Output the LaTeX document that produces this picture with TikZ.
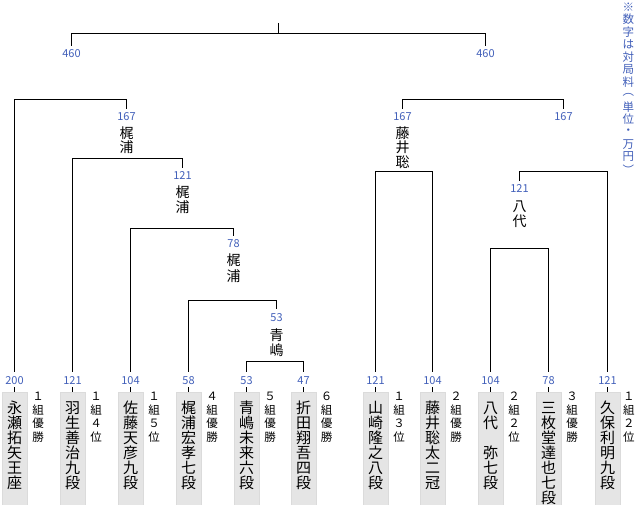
\documentclass[tikz,border=0pt]{standalone}
\usepackage{fontspec}
\setmainfont{Noto Sans CJK JP}
\definecolor{numblue}{RGB}{65,95,185}
\newcommand\vtext[6]{\foreach \ch [count=\i] in #6 {\node[#5] (#1-\i) at (#2,{#3+(\i-1)*#4}) {\ch};}}
\begin{document}
\begin{tikzpicture}[x=1pt,y=-1pt,
  ln/.style={line width=1.2pt},
  num/.style={text=numblue, font=\fontsize{11}{11}\selectfont, inner sep=0pt, text height=8pt, text depth=0pt},
  cbox/.style={fill=black!10, draw=black!14, line width=0.5pt, minimum width=25pt, minimum height=114pt, anchor=north, inner sep=0pt},
  btxt/.style={font=\fontsize{15}{15}\selectfont, inner sep=0pt},
  stxt/.style={font=\fontsize{11.5}{11.5}\selectfont, inner sep=0pt},
  ttxt/.style={font=\fontsize{14}{14}\selectfont, inner sep=0pt},
  ntxt/.style={font=\fontsize{11.5}{11.5}\selectfont, inner sep=0pt, text=numblue}]
\useasboundingbox (0,0) rectangle (635,505);

% columns: boxes, numbers, names, side texts
\foreach \k/\x/\sx/\n/\nm/\sd in {
  1/14.5/38/200/{永,瀬,拓,矢,王,座}/{１,組,優,勝},
  2/72.5/96/121/{羽,生,善,治,九,段}/{１,組,４,位},
  3/130.5/154/104/{佐,藤,天,彦,九,段}/{１,組,５,位},
  4/188.5/212/58/{梶,浦,宏,孝,七,段}/{４,組,優,勝},
  5/246.5/270/53/{青,嶋,未,来,六,段}/{５,組,優,勝},
  6/303.5/326.5/47/{折,田,翔,吾,四,段}/{６,組,優,勝},
  7/375.5/399/121/{山,崎,隆,之,八,段}/{１,組,３,位},
  8/432.5/456/104/{藤,井,聡,太,二,冠}/{２,組,優,勝},
  9/490.5/514/104/{八,代,　,弥,七,段}/{２,組,２,位},
  10/548.5/572/78/{三,枚,堂,達,也,七,段}/{３,組,優,勝},
  11/607.5/628.8/121/{久,保,利,明,九,段}/{１,組,２,位}}{
  \node[cbox] (b\k) at (\x,392) {};
  \node[num] (n\k) at (\x,380) {\n};
  \draw[ln] ([yshift=-3pt]n\k.south) -- (b\k.north);
  \vtext{t\k}{\x}{408}{15}{btxt}{\nm}
  \vtext{s\k}{\sx}{396.5}{13.5}{stxt}{\sd}
}

% top
\node[num] (L460) at (71.5,53.5) {460};
\node[num] (R460) at (485.5,53.5) {460};
\coordinate (Top) at (278.5,23);
\coordinate (J460) at (278.5,33.5);
\draw[ln] (Top) -- (J460);
\draw[ln, shorten <=3.5pt, shorten >=3.5pt] (L460.north) |- (J460) -| (R460.north);

% left tree
\node[num] (A167) at (126.5,117) {167};
\vtext{w1}{126.5}{133}{14.5}{ttxt}{{梶,浦}}
\coordinate (J167L) at (126.5,99.5);
\draw[ln, shorten <=4pt, shorten >=4pt] (n1.north) |- (J167L) -- (A167.north);

\node[num] (A121) at (182.5,176) {121};
\vtext{w2}{182.5}{192.5}{15}{ttxt}{{梶,浦}}
\coordinate (J121) at (182.5,158.5);
\draw[ln, shorten <=4pt, shorten >=4pt] (n2.north) |- (J121) -- (A121.north);

\node[num] (A78) at (233.5,244) {78};
\vtext{w3}{233.5}{260.5}{15.5}{ttxt}{{梶,浦}}
\coordinate (J78) at (233.5,228.5);
\draw[ln, shorten <=4pt, shorten >=4pt] (n3.north) |- (J78) -- (A78.north);

\node[num] (A53) at (276.5,317) {53};
\vtext{w4}{276.5}{335}{15}{ttxt}{{青,嶋}}
\coordinate (J53) at (276.5,300.5);
\draw[ln, shorten <=4pt, shorten >=4pt] (n4.north) |- (J53) -- (A53.north);

\coordinate (J47) at (303.5,361.5);
\draw[ln, shorten <=4pt, shorten >=4pt] (n5.north) |- (J47) -- (n6.north);

% right tree
\node[num] (B167a) at (402.5,117) {167};
\node[num] (B167b) at (563.5,117) {167};
\vtext{w5}{402.5}{133}{14.5}{ttxt}{{藤,井,聡}}
\coordinate (J167R) at (483,99.5);
\draw[ln, shorten <=4pt, shorten >=4pt] (B167a.north) |- (J167R) -| (B167b.north);

\coordinate (JA) at (404,171.5);
\draw[ln, shorten <=4pt, shorten >=4pt] (n7.north) |- (JA) -| (n8.north);

\node[num] (C121) at (519.5,189) {121};
\vtext{w6}{519.5}{207}{14}{ttxt}{{八,代}}
\coordinate (JB) at (563,171.5);
\draw[ln, shorten <=4pt, shorten >=4pt] (C121.north) |- (JB) -| (n11.north);

\coordinate (JC) at (519.5,248.5);
\draw[ln, shorten <=4pt, shorten >=4pt] (n9.north) |- (JC) -| (n10.north);

% note
\vtext{note}{628.3}{7}{12.5}{ntxt}{{※,数,字,は,対,局,料,︵,単,位,・,万,円,︶}}
\end{tikzpicture}
\end{document}
